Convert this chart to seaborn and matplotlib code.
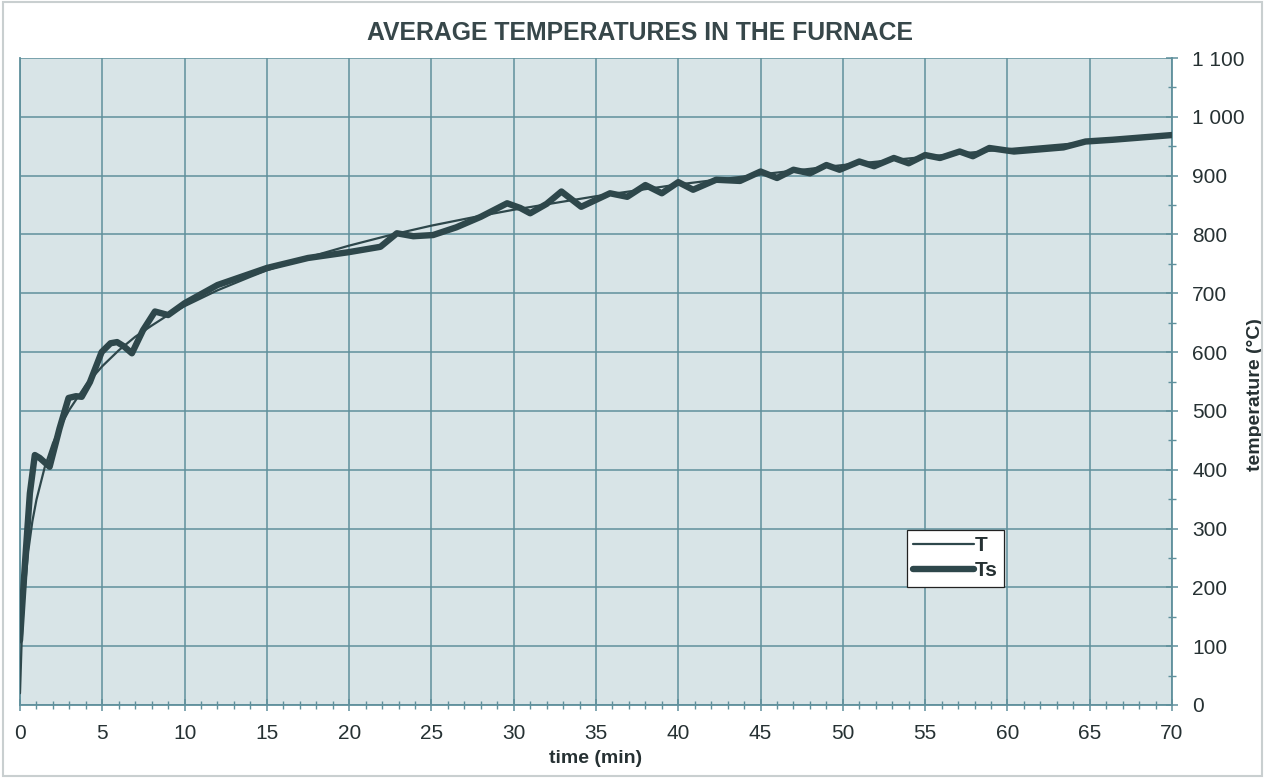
import matplotlib
matplotlib.use("Agg")
import matplotlib.pyplot as plt
import seaborn as sns
import pandas as pd
from matplotlib.ticker import MultipleLocator, FuncFormatter
from matplotlib.patches import Rectangle

# ---- data ----
t_T = [0, 0.1, 0.2, 0.25, 0.5, 0.75, 1, 1.5, 2, 2.5, 3, 4, 5, 6, 7, 8, 9, 10,
       12, 14, 15, 17, 20, 22.5, 25, 27.5, 30, 35, 40, 45, 50, 55, 60, 65, 70]
T = [20, 108, 163, 185, 261, 312, 349, 404, 445, 476, 502, 544, 576, 603, 626,
     645, 663, 678, 705, 728, 739, 757, 781, 799, 815, 829, 842, 865, 885, 902,
     918, 932, 945, 957, 968]

t_Ts = [0, 0.3, 0.6, 0.9, 1.2, 1.8, 2.4, 2.95, 3.4, 3.75, 4.25, 4.96, 5.5, 5.9,
        6.3, 6.8, 7.47, 8.2, 8.6, 9.0, 10, 12, 15, 17.5, 20, 21.9, 22.9, 23.9,
        25.1, 26.5, 28, 29.6, 30.4, 31, 32, 32.9, 34.1, 35.85, 36.9, 38, 39,
        40, 40.9, 42.3, 43.75, 45, 46, 47, 48, 49, 49.8, 51, 51.9, 53.1, 54,
        55, 55.9, 57.1, 57.9, 58.9, 60.4, 61.7, 63.4, 64.75, 66.4, 70]
Ts = [110, 240, 360, 425, 420, 405, 470, 522, 525, 524, 549, 600, 615, 617,
      610, 598, 637, 669, 666, 663, 683, 714, 743, 760, 770, 779, 802, 797,
      799, 812, 830, 853, 845, 836, 852, 873, 847, 870, 864, 884, 870, 889,
      876, 893, 891, 907, 896, 910, 904, 918, 910, 924, 916, 930, 921, 935,
      930, 941, 933, 947, 941, 944, 948, 958, 961, 969]

title = "AVERAGE TEMPERATURES IN THE FURNACE"
xlabel = "time (min)"
ylabel = "temperature (°C)"
series_names = ["T", "Ts"]

# ---- style ----
sns.set_theme(style="white")
plt.rcParams["font.family"] = ["Liberation Sans", "DejaVu Sans"]

bg = "#d8e4e7"
grid_c = "#5f909c"
line_c = "#2e474b"
text_c = "#263133"

fig = plt.figure(figsize=(12.65, 7.78), dpi=100)
fig.patch.set_facecolor("white")
ax = fig.add_axes([20 / 1265, 1 - 705 / 778, 1152 / 1265, 647 / 778])
ax.set_facecolor(bg)

df_T = pd.DataFrame({"t": t_T, "v": T})
df_Ts = pd.DataFrame({"t": t_Ts, "v": Ts})

sns.lineplot(data=df_Ts, x="t", y="v", ax=ax, color=line_c, linewidth=4.6,
             sort=False, estimator=None, solid_joinstyle="round",
             solid_capstyle="round", label=series_names[1], zorder=3)
sns.lineplot(data=df_T, x="t", y="v", ax=ax, color=line_c, linewidth=1.6,
             sort=False, estimator=None, label=series_names[0], zorder=4)

ax.set_xlim(0, 70)
ax.set_ylim(0, 1100)

ax.xaxis.set_major_locator(MultipleLocator(5))
ax.xaxis.set_minor_locator(MultipleLocator(1))
ax.yaxis.set_major_locator(MultipleLocator(100))
ax.yaxis.set_minor_locator(MultipleLocator(50))
ax.yaxis.set_major_formatter(FuncFormatter(lambda v, p: f"{int(v):,}".replace(",", " ")))

ax.yaxis.tick_right()
ax.yaxis.set_label_position("right")

ax.grid(True, which="major", color=grid_c, linewidth=1.1)
ax.set_axisbelow(True)

ax.spines["top"].set_visible(False)
for s in ["left", "right", "bottom"]:
    ax.spines[s].set_color(grid_c)
    ax.spines[s].set_linewidth(1.3)

ax.tick_params(axis="both", which="major", direction="inout", length=9,
               width=1.1, color=grid_c, labelsize=15, labelcolor=text_c)
ax.tick_params(axis="both", which="minor", direction="inout", length=6,
               width=1.0, color=grid_c)
ax.tick_params(axis="x", which="both", bottom=True, pad=9)
ax.tick_params(axis="y", which="both", right=True, left=False, pad=10)

ax.set_xlabel(xlabel, fontsize=14, fontweight="bold", color=text_c, labelpad=5)
ax.set_ylabel(ylabel, fontsize=14, fontweight="bold", color=text_c)
ax.yaxis.set_label_coords(1.065, 0.48)

fig.text(640 / 1265, 1 - 33 / 778, title, ha="center", va="center",
         fontsize=17.8, fontweight="bold", color="#37474a")

handles, labels = ax.get_legend_handles_labels()
order = [labels.index("T"), labels.index("Ts")]
leg = ax.legend([handles[i] for i in order], [labels[i] for i in order],
                loc="upper left", bbox_to_anchor=((907 - 20) / 1152, (705 - 530) / 647),
                frameon=True, fancybox=False, framealpha=1, facecolor="white",
                edgecolor="#222222", handlelength=2.9, handletextpad=0.05,
                borderpad=0.3, labelspacing=0.3, borderaxespad=0,
                prop={"size": 15, "weight": "bold"})
leg.get_frame().set_linewidth(0.9)
for txt in leg.get_texts():
    txt.set_color(text_c)

fig.patches.append(Rectangle((0.002, 0.003), 0.996, 0.994, transform=fig.transFigure,
                             fill=False, edgecolor="#c9cfd0", linewidth=1.5))

fig.savefig("out.png", dpi=100, facecolor="white")
